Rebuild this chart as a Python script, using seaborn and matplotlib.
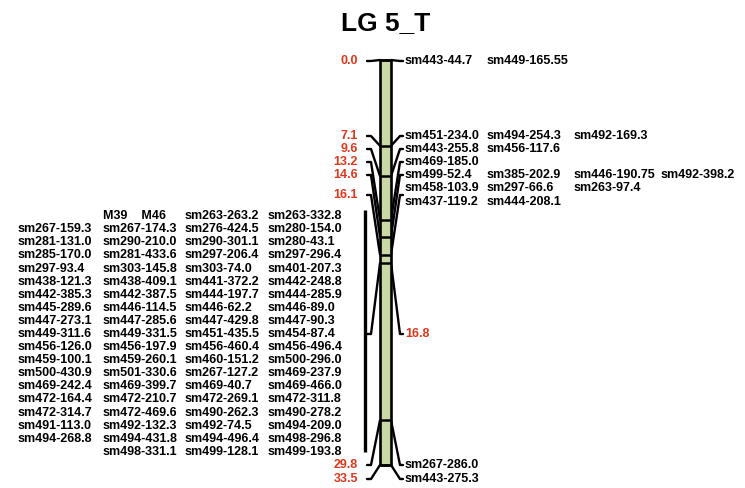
import matplotlib
matplotlib.use("Agg")
import matplotlib.pyplot as plt
import seaborn as sns

sns.set_theme(style="white")
plt.rcParams['font.family'] = ['Liberation Sans', 'DejaVu Sans']
plt.rcParams['text.color'] = 'black'

title = "LG 5_T"

# loci on the linkage group (cM) and the names shown for each, row by row
positions = [0.0, 7.1, 9.6, 13.2, 14.6, 16.1, 16.8, 29.8, 33.5]
pos_labels = ["0.0", "7.1", "9.6", "13.2", "14.6", "16.1", "16.8", "29.8", "33.5"]
marker_rows = [
    [["sm443-44.7", "sm449-165.55"]],
    [["sm451-234.0", "sm494-254.3", "sm492-169.3"]],
    [["sm443-255.8", "sm456-117.6"]],
    [["sm469-185.0"]],
    [["sm499-52.4", "sm385-202.9", "sm446-190.75", "sm492-398.2"]],
    [["sm458-103.9", "sm297-66.6", "sm263-97.4"], ["sm437-119.2", "sm444-208.1"]],
    None,  # big group, drawn on the left
    [["sm267-286.0"]],
    [["sm443-275.3"]],
]
group_168 = [
    ["", "M39    M46", "sm263-263.2", "sm263-332.8"],
    ["sm267-159.3", "sm267-174.3", "sm276-424.5", "sm280-154.0"],
    ["sm281-131.0", "sm290-210.0", "sm290-301.1", "sm280-43.1"],
    ["sm285-170.0", "sm281-433.6", "sm297-206.4", "sm297-296.4"],
    ["sm297-93.4", "sm303-145.8", "sm303-74.0", "sm401-207.3"],
    ["sm438-121.3", "sm438-409.1", "sm441-372.2", "sm442-248.8"],
    ["sm442-385.3", "sm442-387.5", "sm444-197.7", "sm444-285.9"],
    ["sm445-289.6", "sm446-114.5", "sm446-62.2", "sm446-89.0"],
    ["sm447-273.1", "sm447-285.6", "sm447-429.8", "sm447-90.3"],
    ["sm449-311.6", "sm449-331.5", "sm451-435.5", "sm454-87.4"],
    ["sm456-126.0", "sm456-197.9", "sm456-460.4", "sm456-496.4"],
    ["sm459-100.1", "sm459-260.1", "sm460-151.2", "sm500-296.0"],
    ["sm500-430.9", "sm501-330.6", "sm267-127.2", "sm469-237.9"],
    ["sm469-242.4", "sm469-399.7", "sm469-40.7", "sm469-466.0"],
    ["sm472-164.4", "sm472-210.7", "sm472-269.1", "sm472-311.8"],
    ["sm472-314.7", "sm472-469.6", "sm490-262.3", "sm490-278.2"],
    ["sm491-113.0", "sm492-132.3", "sm492-74.5", "sm494-209.0"],
    ["sm494-268.8", "sm494-431.8", "sm494-496.4", "sm498-296.8"],
    ["", "sm498-331.1", "sm499-128.1", "sm499-193.8"],
]

# layout (pixels): where each label block sits after spreading
label_px = [61, 136, 149, 162, 175, 195, 334, 465, 479]
row_h = 13.1
top_px, bot_px = 60, 465
k = (bot_px - top_px) / positions[-1]


def cm(px):
    return (px - top_px) / k


red = "#e0361c"
bar_l, bar_r = 380, 391
right_cols = [405, 487, 574, 661]
left_cols = [18, 103, 185, 268]

fig = plt.figure(figsize=(7.45, 4.88), dpi=100)
ax = fig.add_axes([0, 0, 1, 1])
ax.set_xlim(0, 745)
ax.set_ylim(cm(488), cm(0))
ax.axis("off")

# chromosome bar
ax.bar((bar_l + bar_r) / 2, positions[-1], bottom=0, width=bar_r - bar_l,
       color="#c9d9a6", edgecolor="black", linewidth=1.9, zorder=3)
ax.hlines(positions, bar_l, bar_r, color="black", linewidth=1.8, zorder=4)

for i, p in enumerate(positions):
    ly = cm(label_px[i])
    ax.plot([bar_l, 371, 367], [p, ly, ly], color="black", lw=1.7, zorder=2)
    ax.plot([bar_r, 400, 403], [p, ly, ly], color="black", lw=1.7, zorder=2)
    rows = marker_rows[i]
    if rows is None:
        # position to the right, marker group to the left with a bracket
        ax.text(405, ly, pos_labels[i], color=red, fontsize=9, fontweight="bold",
                ha="left", va="center")
        n = len(group_168)
        y0 = label_px[i] - (n - 1) / 2 * row_h
        for r, row in enumerate(group_168):
            for c, name in enumerate(row):
                if name:
                    ax.text(left_cols[c], cm(y0 + r * row_h), name, fontsize=9,
                            fontweight="bold", ha="left", va="center")
        ax.plot([365, 365], [cm(y0 - 6), cm(y0 + (n - 1) * row_h)],
                color="black", lw=2.4, solid_capstyle="butt")
        continue
    ax.text(358, ly, pos_labels[i], color=red, fontsize=9, fontweight="bold",
            ha="right", va="center")
    y0 = label_px[i] - (len(rows) - 1) / 2 * row_h
    for r, row in enumerate(rows):
        for c, name in enumerate(row):
            ax.text(right_cols[c], cm(y0 + r * row_h), name, fontsize=9,
                    fontweight="bold", ha="left", va="center")

ax.text(386, cm(23), title, fontsize=19, fontweight="bold", ha="center", va="center")

fig.savefig("out.png", dpi=100)
